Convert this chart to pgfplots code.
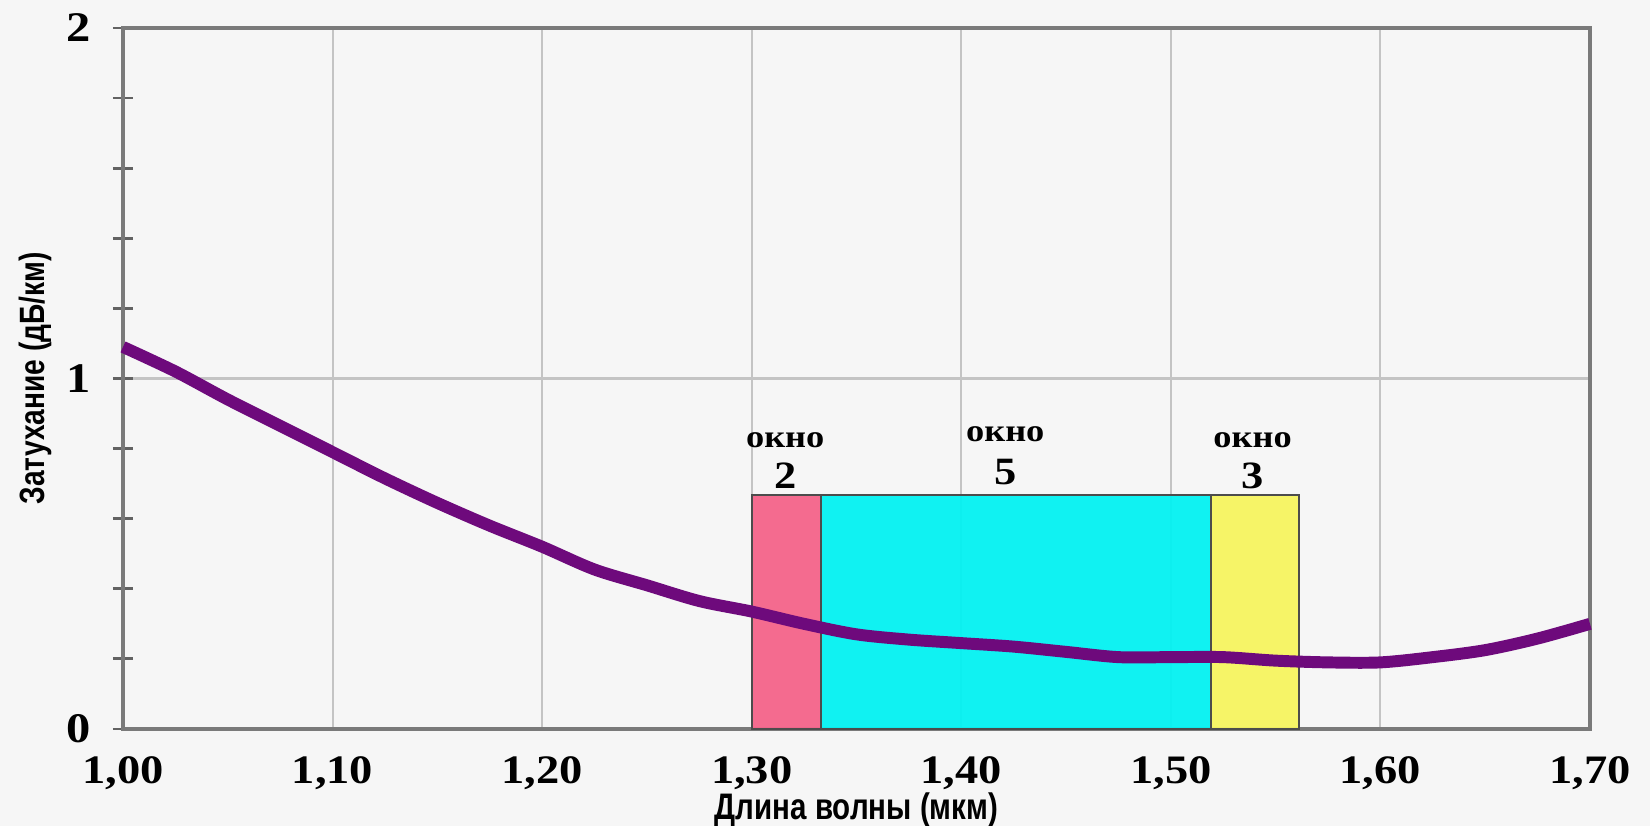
\documentclass[border=0pt]{standalone}
\usepackage{pgfplots}
\pgfplotsset{compat=1.18}
\usepackage{fontspec}
\setmainfont{Liberation Serif}
\newfontfamily\labelfont[FakeStretch=0.8]{Liberation Sans}
\newfontfamily\tickfont[FakeStretch=1.15]{Liberation Serif}
\definecolor{bgc}{HTML}{F6F6F6}
\definecolor{curvec}{HTML}{6E0A7C}
\definecolor{pinkc}{HTML}{F4648A}
\definecolor{cyanc}{HTML}{04F2F2}
\definecolor{yellowc}{HTML}{F6F460}
\definecolor{framec}{HTML}{7A7A7A}
\definecolor{gridc}{HTML}{C4C4C4}
\begin{document}
\begin{tikzpicture}
\fill[bgc] (-1.23cm,-0.97cm) rectangle (15.27cm,7.29cm);
\begin{axis}[
  scale only axis,
  width=14.67cm, height=7.01cm,
  xmin=1.0, xmax=1.7, ymin=0, ymax=2,
  axis background/.style={fill=bgc},
  xtick={1.0,1.1,1.2,1.3,1.4,1.5,1.6,1.7},
  xticklabels={{1,00},{1,10},{1,20},{1,30},{1,40},{1,50},{1,60},{1,70}},
  ytick={0,1,2},
  yticklabels={0,1,2},
  ytick pos=left,
  minor y tick num=4,
  xmajorgrids, ymajorgrids,
  major grid style={draw=gridc, line width=0.6pt},
  axis line style={draw=framec, line width=1.3pt},
  x tick style={draw=none},
  y tick style={draw=framec!80!black, line width=0.8pt},
  tick align=center,
  major tick length=0.2cm, minor tick length=0.2cm,
  xticklabel style={font=\tickfont\fontsize{11.5}{13}\selectfont\bfseries, yshift=-0.05cm},
  yticklabel style={font=\tickfont\fontsize{12}{14}\selectfont\bfseries, xshift=-0.1cm},
  xlabel={Длина волны (мкм)},
  ylabel={Затухание (дБ/км)},
  xlabel style={font=\labelfont\fontsize{10.5}{12}\selectfont\bfseries, at={(axis description cs:0.5,0)}, anchor=base, yshift=-0.91cm},
  ylabel style={font=\labelfont\fontsize{10}{12}\selectfont\bfseries, yshift=-0.1cm},
  clip=false,
]
\addplot[fill=pinkc, draw=black!70, line width=0.6pt, fill opacity=0.95] coordinates {(1.30,0.667) (1.333,0.667)} \closedcycle;
\addplot[fill=cyanc, draw=black!70, line width=0.6pt, fill opacity=0.95] coordinates {(1.333,0.667) (1.519,0.667)} \closedcycle;
\addplot[fill=yellowc, draw=black!70, line width=0.6pt, fill opacity=0.95] coordinates {(1.519,0.667) (1.561,0.667)} \closedcycle;
\addplot[curvec, line width=3.4pt, smooth] coordinates {
(1.000,1.09) (1.025,1.02) (1.050,0.94) (1.075,0.865) (1.100,0.79)
(1.125,0.715) (1.150,0.645) (1.175,0.58) (1.200,0.52) (1.225,0.455)
(1.250,0.41) (1.275,0.365) (1.300,0.335) (1.325,0.30) (1.350,0.27)
(1.375,0.255) (1.400,0.245) (1.425,0.235) (1.450,0.22) (1.475,0.205)
(1.500,0.205) (1.525,0.205) (1.550,0.195) (1.575,0.19) (1.600,0.19)
(1.625,0.205) (1.650,0.225) (1.675,0.258) (1.700,0.30)
};
\node[font=\tickfont\fontsize{9}{11}\selectfont\bfseries] at (axis cs:1.316,0.825) {окно};
\node[font=\tickfont\fontsize{11}{13}\selectfont\bfseries] at (axis cs:1.316,0.722) {2};
\node[font=\tickfont\fontsize{9}{11}\selectfont\bfseries] at (axis cs:1.421,0.84) {окно};
\node[font=\tickfont\fontsize{11}{13}\selectfont\bfseries] at (axis cs:1.421,0.732) {5};
\node[font=\tickfont\fontsize{9}{11}\selectfont\bfseries] at (axis cs:1.539,0.825) {окно};
\node[font=\tickfont\fontsize{11}{13}\selectfont\bfseries] at (axis cs:1.539,0.722) {3};
\end{axis}
\pgfresetboundingbox
\path (-1.23cm,-0.97cm) rectangle (15.27cm,7.29cm);
\end{tikzpicture}
\end{document}
